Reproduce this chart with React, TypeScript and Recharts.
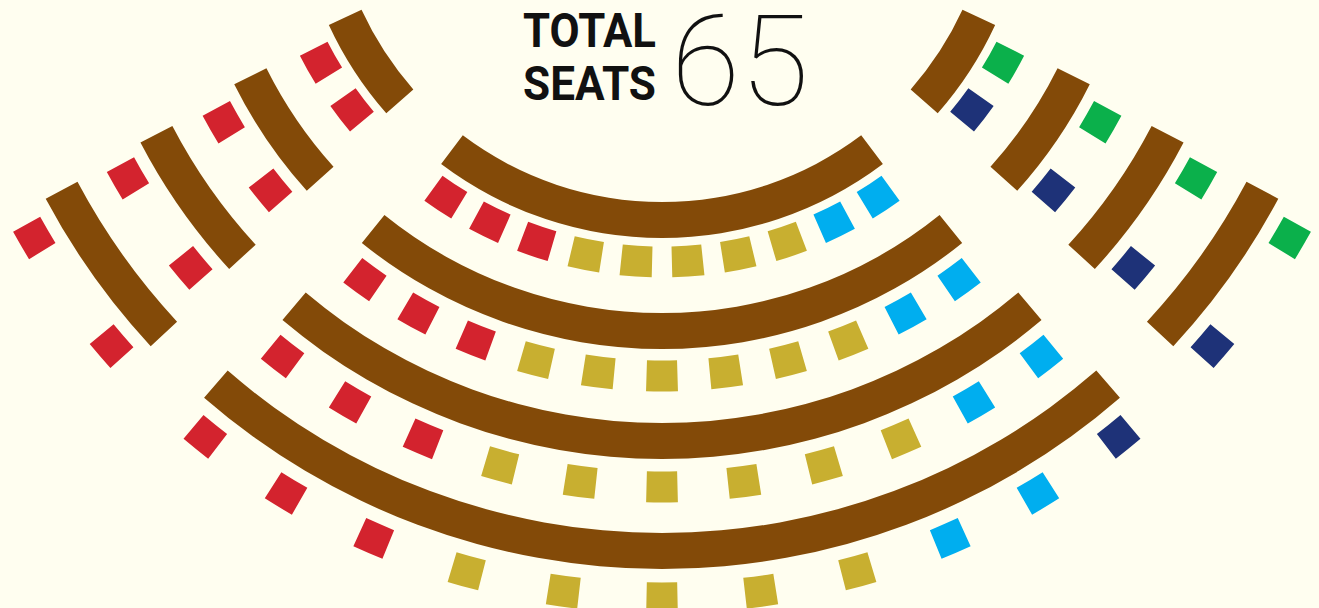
import React from "react";
import { PieChart, Pie, Cell } from "recharts";

// seats per party in each bench row, row 1 = innermost
const centreRed = [3, 3, 3, 3];
const centreGold = [5, 6, 6, 5];
const centreSky = [2, 2, 2, 2];
const centreNavy = [0, 0, 0, 1];
const leftWingRed = [2, 2, 2, 2];
const rightWingNavy = [1, 1, 1, 1];
const rightWingGreen = [1, 1, 1, 1];
const totalSeats = 65;
const titleLines = ["TOTAL", "SEATS"];

const COLORS: Record<string, string> = {
  red: "#D3232E",
  gold: "#C8AF30",
  sky: "#00AEEF",
  navy: "#1E3278",
  green: "#0BB04B",
};
const BROWN = "#834A08";
const BG = "#FFFEF0";

// bench geometry: angles in degrees from straight down, radii in px
const CX = 662;
const CY = -129;
const SEAT = 31;
const DESK = 36;
const rowLayout = [
  { desk: 331, deskEnd: 37.0, wingFrom: 48.7, wingTo: 65.2, seatR: 391, seatSpan: 33.5, wingSeats: [52.4, 60.7] },
  { desk: 442, deskEnd: 38.9, wingFrom: 48.0, wingTo: 63.5, seatR: 505, seatSpan: 36.0, wingSeats: [50.8, 60.2] },
  { desk: 552, deskEnd: 40.2, wingFrom: 47.4, wingTo: 62.5, seatR: 616, seatSpan: 38.0, wingSeats: [49.9, 60.1] },
  { desk: 662, deskEnd: 41.0, wingFrom: 47.1, wingTo: 62.0, seatR: 727, seatSpan: 38.9, wingSeats: [49.2, 59.7] },
];

type Seat = { party: string; value: number };

const seatsOf = (groups: [string, number][]): Seat[] =>
  groups.flatMap(([party, n]) => Array.from({ length: n }, () => ({ party, value: 1 })));

const deskPie = (key: string, inner: number, from: number, to: number) => (
  <Pie
    key={key}
    data={[{ value: 1 }]}
    dataKey="value"
    cx={CX}
    cy={CY}
    innerRadius={inner}
    outerRadius={inner + DESK}
    startAngle={-90 + from}
    endAngle={-90 + to}
    fill={BROWN}
    stroke="none"
    isAnimationActive={false}
  />
);

const seatPie = (key: string, seats: Seat[], r: number, from: number, to: number) => {
  const w = (SEAT / r) * (180 / Math.PI);
  const step = seats.length > 1 ? (to - from) / (seats.length - 1) : 0;
  return (
    <Pie
      key={key}
      data={seats}
      dataKey="value"
      nameKey="party"
      cx={CX}
      cy={CY}
      innerRadius={r - SEAT / 2}
      outerRadius={r + SEAT / 2}
      startAngle={-90 + from - w / 2}
      endAngle={-90 + to + w / 2}
      paddingAngle={step - w}
      stroke="none"
      isAnimationActive={false}
    >
      {seats.map((s, i) => (
        <Cell key={i} fill={COLORS[s.party]} />
      ))}
    </Pie>
  );
};

export default function App() {
  const pies: React.ReactNode[] = [];
  rowLayout.forEach((row, i) => {
    pies.push(deskPie(`dc${i}`, row.desk, -row.deskEnd, row.deskEnd));
    pies.push(deskPie(`dl${i}`, row.desk, -row.wingTo, -row.wingFrom));
    pies.push(deskPie(`dr${i}`, row.desk, row.wingFrom, row.wingTo));

    const centre = seatsOf([
      ["red", centreRed[i]],
      ["gold", centreGold[i]],
      ["sky", centreSky[i]],
      ["navy", centreNavy[i]],
    ]);
    pies.push(seatPie(`sc${i}`, centre, row.seatR, -row.seatSpan, row.seatSpan));

    const left = seatsOf([["red", leftWingRed[i]]]);
    pies.push(seatPie(`sl${i}`, left, row.seatR, -row.wingSeats[1], -row.wingSeats[0]));

    const right = seatsOf([
      ["navy", rightWingNavy[i]],
      ["green", rightWingGreen[i]],
    ]);
    pies.push(seatPie(`sr${i}`, right, row.seatR, row.wingSeats[0], row.wingSeats[1]));
  });

  return (
    <div
      style={{
        position: "absolute",
        left: 0,
        top: 0,
        width: 1319,
        height: 608,
        background: BG,
        overflow: "hidden",
      }}
    >
      <PieChart width={1319} height={608} margin={{ top: 0, right: 0, bottom: 0, left: 0 }}>
        {pies}
      </PieChart>
      <svg
        width={1319}
        height={608}
        style={{ position: "absolute", left: 0, top: 0, pointerEvents: "none" }}
      >
        {titleLines.map((t, i) => (
          <text
            key={t}
            x={523}
            y={47 + i * 53}
            fontFamily="Roboto, 'DejaVu Sans', sans-serif"
            fontWeight={700}
            fontSize={48}
            textLength={133}
            lengthAdjust="spacingAndGlyphs"
            fill="#111"
          >
            {t}
          </text>
        ))}
        <text
          x={671}
          y={105}
          fontFamily="Roboto, 'DejaVu Sans', sans-serif"
          fontWeight={100}
          fontSize={126}
          fill="#111"
        >
          {totalSeats}
        </text>
      </svg>
    </div>
  );
}
